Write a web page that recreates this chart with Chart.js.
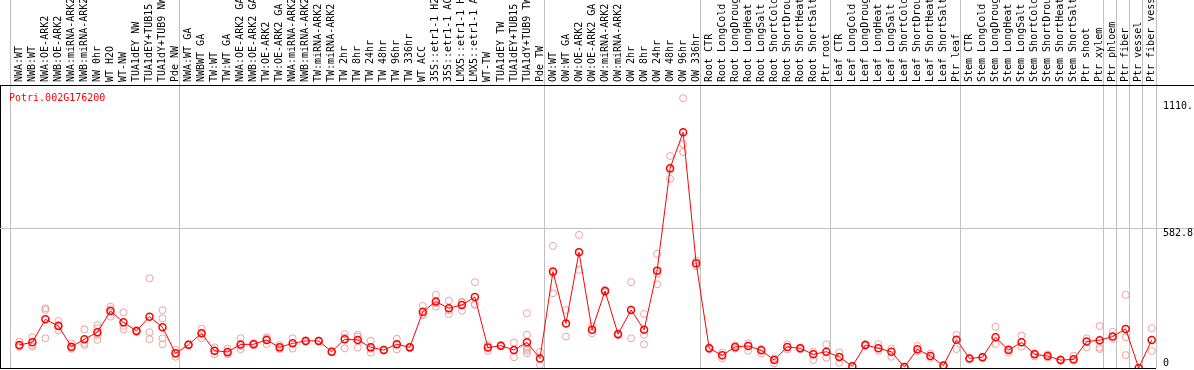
<!DOCTYPE html>
<html>
<head>
<meta charset="utf-8">
<script src="https://cdn.jsdelivr.net/npm/chart.js@4.4.1/dist/chart.umd.min.js"></script>
<style>
  html, body { margin: 0; padding: 0; background: #fff; }
  canvas { display: block; }
</style>
</head>
<body>
<canvas id="chart" width="1194" height="370"></canvas>
<script>
const geneId = 'Potri.002G176200';

// sample names as printed in the header (cut at 14 chars)
const samples = [
    'NWA:WT', 'NWB:WT', 'NWA:OE-ARK2', 'NWB:OE-ARK2', 'NWA:miRNA-ARK2', 'NWB:miRNA-ARK2',
    'NW 0hr', 'WT H2O', 'WT-NW', 'TUA1dEY NW', 'TUA1dEY+TUB15', 'TUA1dY+TUB9 NW', 'Pde NW',
    'NWA:WT GA', 'NWBWT GA', 'TW:WT', 'TW:WT GA', 'NWA:OE-ARK2 GA', 'NWB:OE-ARK2 GA',
    'TW:OE-ARK2', 'TW:OE-ARK2 GA', 'NWA:miRNA-ARK2', 'NWB:miRNA-ARK2', 'TW:miRNA-ARK2',
    'TW:miRNA-ARK2', 'TW 2hr', 'TW 8hr', 'TW 24hr', 'TW 48hr', 'TW 96hr', 'TW 336hr',
    'WT ACC', '35S::etr1-1 H2', '35S::etr1-1 AC', 'LMX5::etr1-1 H', 'LMX5::etr1-1 A',
    'WT-TW', 'TUA1dEY TW', 'TUA1dEY+TUB15', 'TUA1dY+TUB9 TW', 'Pde TW',
    'OW:WT', 'OW:WT GA', 'OW:OE-ARK2', 'OW:OE-ARK2 GA', 'OW:miRNA-ARK2', 'OW:miRNA-ARK2',
    'OW 2hr', 'OW 8hr', 'OW 24hr', 'OW 48hr', 'OW 96hr', 'OW 336hr',
    'Root CTR', 'Root LongCold', 'Root LongDroug', 'Root LongHeat', 'Root LongSalt',
    'Root ShortCold', 'Root ShortDrou', 'Root ShortHeat', 'Root ShortSalt', 'Ptr root',
    'Leaf CTR', 'Leaf LongCold', 'Leaf LongDroug', 'Leaf LongHeat', 'Leaf LongSalt',
    'Leaf ShortCold', 'Leaf ShortDrou', 'Leaf ShortHeat', 'Leaf ShortSalt', 'Ptr leaf',
    'Stem CTR', 'Stem LongCold', 'Stem LongDroug', 'Stem LongHeat', 'Stem LongSalt',
    'Stem ShortCold', 'Stem ShortDrou', 'Stem ShortHeat', 'Stem ShortSalt', 'Ptr shoot',
    'Ptr xylem', 'Ptr phloem', 'Ptr fiber', 'Ptr vessel', 'Ptr fiber vess'
];

// how many samples sit in each block between the grey separators
const groupSizes = [13, 28, 12, 10, 10, 11, 1, 1, 1, 1];

// mean expression per sample
const means = [
    96, 107, 203, 175, 89, 120, 149, 238, 191, 154, 214, 170, 61,
    97, 145, 72, 67, 98, 99, 117, 86, 103, 113, 113, 68, 120, 117, 86, 75, 99, 86,
    235, 277, 249, 263, 296, 85, 93, 75, 107, 40,
    402, 186, 483, 159, 321, 141, 242, 159, 406, 833, 983, 437,
    82, 53, 88, 92, 74, 33, 88, 82, 57, 68,
    46, 7, 96, 82, 68, 4, 78, 50, 10, 118,
    40, 45, 128, 75, 107, 57, 50, 33, 36, 110, 116,
    131, 163, 0, 117
];

// individual replicates per sample
const replicates = [
    [110, 92, 88], [128, 96, 89], [249, 242, 124], [196, 179, 158], [103, 85, 80],
    [161, 103, 96], [179, 166, 138, 117], [256, 245, 214], [232, 175, 161], [158, 150, 154],
    [374, 149, 120], [241, 207, 124, 99], [75, 47],
    [100, 95, 96], [164, 145, 124], [86, 57, 72], [81, 57, 62], [124, 79, 92], [104, 96],
    [128, 100, 122], [96, 79], [124, 81], [116, 110], [115, 111], [70, 66], [142, 82, 126],
    [138, 131, 85], [114, 64, 80], [77, 73], [122, 78, 97], [89, 83], [259, 221, 225],
    [305, 256, 270], [281, 225, 241], [277, 239, 273], [358, 263, 267], [96, 72, 87],
    [96, 90], [106, 45, 74], [228, 138, 89, 80, 72, 61], [68, 13],
    [509, 395, 312], [242, 131], [555, 409, 485], [145, 172], [326, 316], [145, 137],
    [358, 124, 244], [225, 138, 99], [476, 349, 393], [884, 789, 826], [1125, 933, 900],
    [425, 448],
    [86, 78], [64, 40], [95, 81], [103, 72], [61, 80], [20, 40], [99, 77], [86, 78],
    [68, 33], [99, 43],
    [65, 22], [5, 9], [100, 92], [99, 72], [47, 80], [2, 6], [92, 70], [60, 42], [8, 12],
    [138, 79],
    [38, 42], [42, 48], [172, 100], [64, 80], [135, 89], [48, 62], [57, 43], [30, 36],
    [51, 30], [124, 86], [175, 86, 79],
    [151, 121], [305, 128, 54], [0], [166, 71]
];

// right hand axis
const yTicks = [0, 582.8, 1110];
const yTickLabels = ['0', '582.8', '1110.'];
const yMax = 1180;

const xMin = -1.485;
const sepShift = -0.67;

// separator positions built from the group sizes
const separators = [sepShift];
let count = 0;
groupSizes.forEach(n => {
    count += n;
    separators.push(count + sepShift);
});
const xMax = separators[separators.length - 1];

const monoFont = { family: 'DejaVu Sans Mono', size: 10, lineHeight: 1 };
const gridGrey = '#c0c0c0';
const clear = 'rgba(0,0,0,0)';

const meanPoints = means.map((v, i) => ({ x: i, y: v }));
const repPoints = [];
replicates.forEach((arr, i) => {
    arr.forEach(v => repPoints.push({ x: i, y: v }));
});

// no side padding for the header axes, the plot starts at the left edge
function noSidePadding(s) {
    s.paddingLeft = 0;
    s.paddingRight = 0;
}

// red gene id in the top left corner of the plot
const geneLabel = {
    id: 'geneLabel',
    afterDraw(chart) {
        const { ctx, chartArea } = chart;
        ctx.save();
        ctx.font = '10px "DejaVu Sans Mono"';
        ctx.fillStyle = '#ff0000';
        ctx.textBaseline = 'alphabetic';
        ctx.fillText(geneId, chartArea.left + 9, chartArea.top + 16);
        ctx.restore();
    }
};

new Chart(document.getElementById('chart'), {
    type: 'line',
    data: {
        datasets: [
            {
                label: 'mean',
                data: meanPoints,
                xAxisID: 'xl',
                yAxisID: 'y',
                borderColor: '#ff0000',
                borderWidth: 1,
                tension: 0,
                pointRadius: 3.5,
                pointBorderWidth: 1.5,
                pointBorderColor: '#ff0000',
                pointBackgroundColor: clear,
                order: 0
            },
            {
                label: 'replicates',
                data: repPoints,
                xAxisID: 'xl',
                yAxisID: 'y',
                showLine: false,
                pointRadius: 3.5,
                pointBorderWidth: 1,
                pointBorderColor: '#f0a0a0',
                pointBackgroundColor: clear,
                order: 1
            }
        ]
    },
    options: {
        responsive: false,
        animation: false,
        events: [],
        layout: { padding: { left: 0, right: 0, top: 0, bottom: 2 }, autoPadding: false },
        plugins: {
            legend: { display: false },
            tooltip: { enabled: false },
            title: { display: false }
        },
        scales: {
            // separators: grid in the plot, tick marks running up through the header
            xg: {
                type: 'linear',
                position: 'top',
                weight: 0,
                min: xMin,
                max: xMax,
                afterBuildTicks: s => { s.ticks = [xMin].concat(separators).map(v => ({ value: v })); },
                afterFit: s => { s.height = 0; noSidePadding(s); },
                grid: {
                    color: c => c.tick && c.tick.value === xMin ? '#000' : gridGrey,
                    tickColor: c => c.tick && c.tick.value === xMin ? clear : gridGrey,
                    tickLength: 85,
                    lineWidth: 1
                },
                border: { display: true, color: '#000', width: 1 },
                ticks: { display: false }
            },
            // sample names
            xl: {
                type: 'linear',
                position: 'top',
                weight: 1,
                min: xMin,
                max: xMax,
                afterBuildTicks: s => { s.ticks = samples.map((_, i) => ({ value: i })); },
                afterFit: s => { s.height = 85; noSidePadding(s); },
                grid: { display: false, drawTicks: false },
                border: { display: false },
                ticks: {
                    autoSkip: false,
                    minRotation: 90,
                    maxRotation: 90,
                    padding: 3,
                    labelOffset: 10,
                    font: monoFont,
                    color: '#000',
                    callback: v => samples[v]
                }
            },
            y: {
                type: 'linear',
                position: 'right',
                min: 0,
                max: yMax,
                afterBuildTicks: s => { s.ticks = yTicks.concat([yMax]).map(v => ({ value: v })); },
                afterFit: s => { s.width = 38; s.paddingTop = 0; s.paddingBottom = 0; },
                grid: {
                    color: c => {
                        if (!c.tick) return clear;
                        if (c.tick.value === 0 || c.tick.value === yMax) return '#000';
                        if (c.tick.value === 582.8) return gridGrey;
                        return clear;
                    },
                    tickColor: c => {
                        if (!c.tick) return clear;
                        if (c.tick.value === yMax) return '#000';
                        if (c.tick.value === 582.8) return gridGrey;
                        return clear;
                    },
                    tickLength: 38,
                    lineWidth: 1
                },
                border: { display: false },
                ticks: {
                    padding: -31,
                    font: monoFont,
                    color: '#000',
                    callback: (v, i) => {
                        if (i >= yTickLabels.length) return '';
                        // first label sits just above the base line, the others hang below their tick
                        return i === 0 ? [yTickLabels[i], ''] : ['', yTickLabels[i]];
                    }
                }
            }
        }
    },
    plugins: [geneLabel]
});
</script>
</body>
</html>
